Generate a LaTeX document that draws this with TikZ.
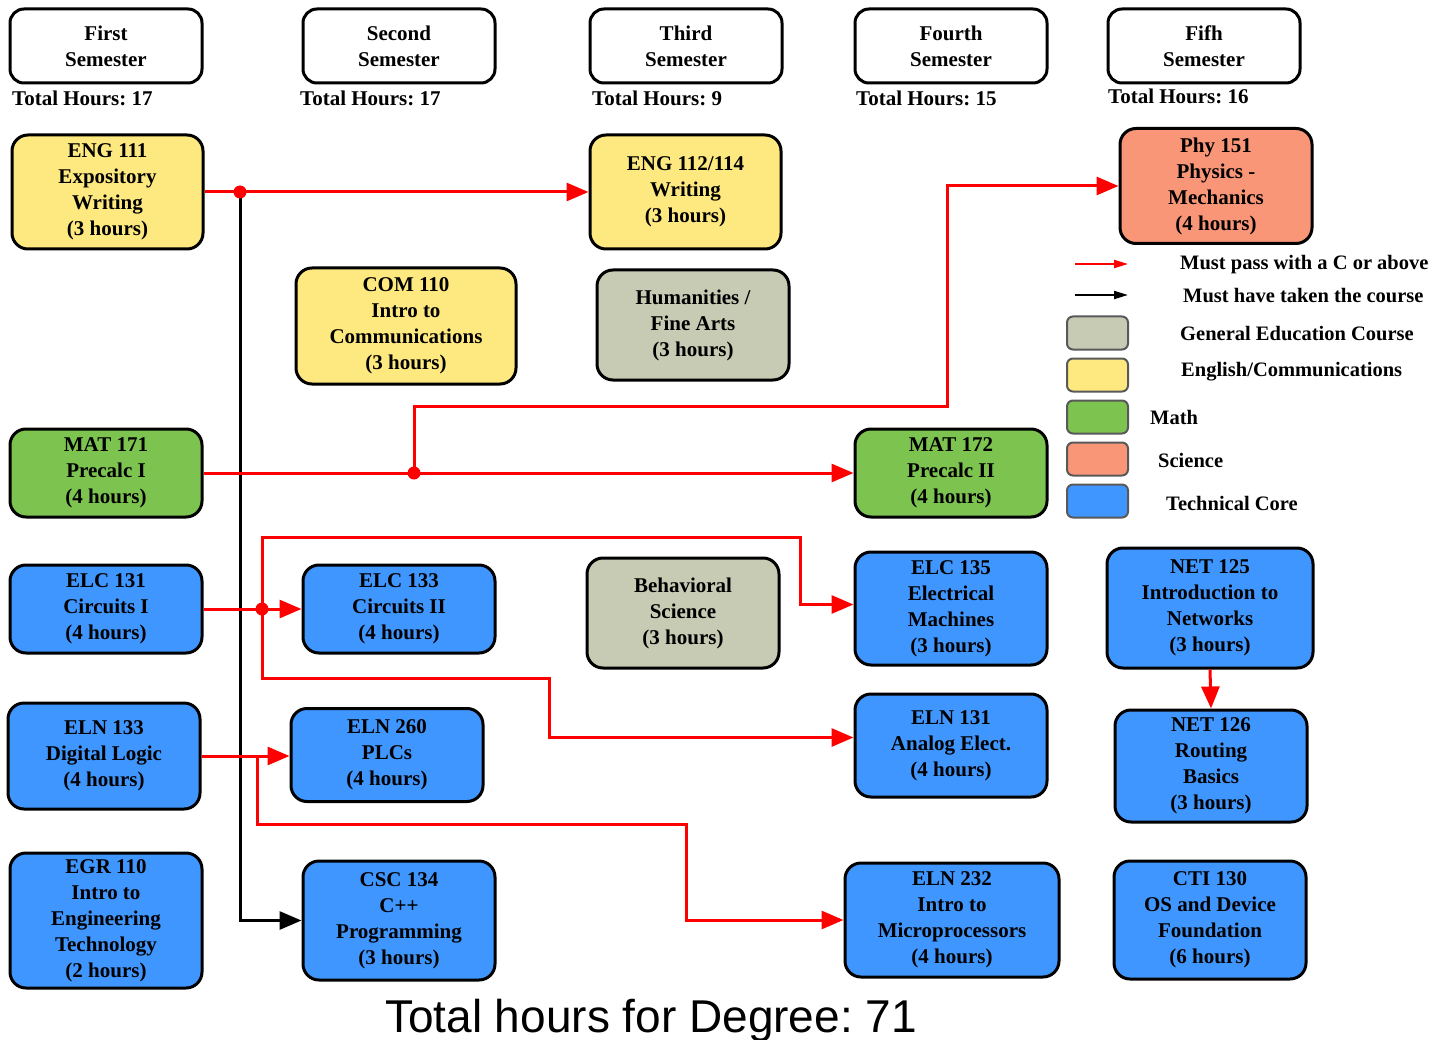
\documentclass[tikz,border=0pt]{standalone}
\usepackage{fontspec}
\setmainfont{Liberation Serif}
\newfontfamily\titlefnt{Liberation Sans}
\usetikzlibrary{arrows.meta}
\frenchspacing
\definecolor{cylw}{RGB}{254,233,128}
\definecolor{cgry}{RGB}{199,203,180}
\definecolor{cgrn}{RGB}{125,195,80}
\definecolor{csal}{RGB}{250,150,120}
\definecolor{cblu}{RGB}{64,150,255}
\newcommand\coursefnt{\fontsize{21}{26}\selectfont\bfseries}
\newcommand\legfnt{\fontsize{20.5}{25}\selectfont\bfseries}
\begin{document}
\begin{tikzpicture}[x=1pt,y=-1pt,
  course/.style={draw=black, line width=3pt, rounded corners=16pt, align=center, inner sep=0pt, font=\coursefnt, text=black},
  semhead/.style={course, fill=white, minimum width=192pt, minimum height=74pt, rounded corners=14pt},
  hours/.style={anchor=base west, inner sep=0pt, font=\coursefnt},
  redarrow/.style={draw=red, line width=3pt, -{Triangle[length=22pt,width=18pt]}},
  redline/.style={draw=red, line width=3pt},
  blkarrow/.style={draw=black, line width=3pt, -{Triangle[length=22pt,width=18pt]}},
  swatch/.style={draw=black!65, line width=2pt, rounded corners=6pt, minimum width=61pt, minimum height=33pt, inner sep=0pt},
  legtext/.style={anchor=west, inner sep=0pt, font=\legfnt},
  jdot/.style={fill=red}]
\useasboundingbox[fill=white] (0,0) rectangle (1447,1040);

% semester headers
\node[semhead] (s1) at (106,46) {First\\Semester};
\node[semhead] (s2) at (399,46) {Second\\Semester};
\node[semhead] (s3) at (686,46) {Third\\Semester};
\node[semhead] (s4) at (951,46) {Fourth\\Semester};
\node[semhead] (s5) at (1204,46) {Fifh\\Semester};
\node[hours] (h1) at (12,106) {Total Hours: 17};
\node[hours] (h2) at (300,106) {Total Hours: 17};
\node[hours] (h3) at (592,106) {Total Hours: 9};
\node[hours] (h4) at (856,106) {Total Hours: 15};
\node[hours] (h5) at (1108,104) {Total Hours: 16};

% courses
\node[course, fill=cylw, minimum width=191pt, minimum height=114pt] (eng111) at (107.5,192) {ENG 111\\Expository\\Writing\\(3 hours)};
\node[course, fill=cylw, minimum width=191pt, minimum height=114pt] (eng112) at (685.5,192) {ENG 112/114\\Writing\\(3 hours)};
\node[course, fill=csal, minimum width=192pt, minimum height=115pt] (phy151) at (1216,186) {Phy 151\\Physics -\\Mechanics\\(4 hours)};
\node[course, fill=cylw, minimum width=220pt, minimum height=116pt] (com110) at (406,326) {COM 110\\Intro to\\Communications\\(3 hours)};
\node[course, fill=cgry, minimum width=192pt, minimum height=110pt] (hum) at (693,325) {Humanities /\\Fine Arts\\(3 hours)};
\node[course, fill=cgrn, minimum width=192pt, minimum height=88pt] (mat171) at (106,473) {MAT 171\\Precalc I\\(4 hours)};
\node[course, fill=cgrn, minimum width=192pt, minimum height=88pt] (mat172) at (951,473) {MAT 172\\Precalc II\\(4 hours)};
\node[course, fill=cblu, minimum width=192pt, minimum height=88pt] (elc131) at (106,609) {ELC 131\\Circuits I\\(4 hours)};
\node[course, fill=cblu, minimum width=192pt, minimum height=88pt] (elc133) at (399,609) {ELC 133\\Circuits II\\(4 hours)};
\node[course, fill=cgry, minimum width=192pt, minimum height=110pt] (behav) at (683,613) {Behavioral\\Science\\(3 hours)};
\node[course, fill=cblu, minimum width=192pt, minimum height=113pt] (elc135) at (951,608.5) {ELC 135\\Electrical\\Machines\\(3 hours)};
\node[course, fill=cblu, minimum width=206pt, minimum height=120pt] (net125) at (1210,608) {NET 125\\Introduction to\\Networks\\(3 hours)};
\node[course, fill=cblu, minimum width=192pt, minimum height=106pt] (eln133) at (104,756) {ELN 133\\Digital Logic\\(4 hours)};
\node[course, fill=cblu, minimum width=192pt, minimum height=93pt] (eln260) at (387,755) {ELN 260\\PLCs\\(4 hours)};
\node[course, fill=cblu, minimum width=192pt, minimum height=103pt] (eln131) at (951,745.5) {ELN 131\\Analog Elect.\\(4 hours)};
\node[course, fill=cblu, minimum width=192pt, minimum height=112pt] (net126) at (1211,766) {NET 126\\Routing\\Basics\\(3 hours)};
\node[course, fill=cblu, minimum width=192pt, minimum height=135pt] (egr110) at (106,920.5) {EGR 110\\Intro to\\Engineering\\Technology\\(2 hours)};
\node[course, fill=cblu, minimum width=192pt, minimum height=119pt] (csc134) at (399,920.5) {CSC 134\\C++\\Programming\\(3 hours)};
\node[course, fill=cblu, minimum width=214pt, minimum height=114pt] (eln232) at (952,920) {ELN 232\\Intro to\\Microprocessors\\(4 hours)};
\node[course, fill=cblu, minimum width=192pt, minimum height=118pt] (cti130) at (1210,920) {CTI 130\\OS and Device\\Foundation\\(6 hours)};

% junctions
\coordinate (j1) at (240,192);
\coordinate (j2) at (414,473);
\coordinate (j3) at (262,609);
\coordinate (j4) at (257,756);

% connectors
\draw[blkarrow] (j1) |- (csc134.west);
\draw[redarrow] (eng111.east) -- (eng112.west);
\draw[redarrow] (mat171.east) -- (mat172.west);
\draw[redarrow] (j2) -- (414,406) -- (947,406) |- (phy151.west);
\draw[redarrow] (elc131.east) -- (elc133.west);
\draw[redarrow] (j3) -- (262,537) -- (800,537) |- ([yshift=4pt]elc135.west);
\draw[redarrow] (j3) -- (262,678) -- (549,678) |- ([yshift=8pt]eln131.west);
\draw[redarrow] (eln133.east) -- (eln133.east -| eln260.west);
\draw[redarrow] (j4) -- (257,824) -- (686,824) |- (eln232.west);
\draw[redarrow] (net125.south) -- (net126.north);
\fill[jdot] (j1) circle (6.5pt);
\fill[jdot] (j2) circle (6.5pt);
\fill[jdot] (j3) circle (6.5pt);

% legend
\coordinate (la1) at (1075,264);
\coordinate (la2) at (1128,264);
\coordinate (lb1) at (1075,295);
\coordinate (lb2) at (1128,295);
\draw[draw=red, line width=2pt, -{Triangle[length=14pt,width=8pt]}] (la1) -- (la2);
\draw[draw=black, line width=2pt, -{Triangle[length=14pt,width=8pt]}] (lb1) -- (lb2);
\node[legtext] (lt1) at (1180,265) {Must pass with a C or above};
\node[legtext] (lt2) at (1183,296) {Must have taken the course};
\node[swatch, fill=cgry] (sw1) at (1097.5,333) {};
\node[swatch, fill=cylw] (sw2) at (1097.5,375) {};
\node[swatch, fill=cgrn] (sw3) at (1097.5,417) {};
\node[swatch, fill=csal] (sw4) at (1097.5,459) {};
\node[swatch, fill=cblu] (sw5) at (1097.5,501) {};
\node[legtext] (lt3) at (1180,334) {General Education Course};
\node[legtext] (lt4) at (1181,372) {English/Communications};
\node[legtext] (lt5) at (1150,417) {Math};
\node[legtext] (lt6) at (1158,460) {Science};
\node[legtext] (lt7) at (1166,503) {Technical Core};

% title
\node[anchor=base, inner sep=0pt, font=\titlefnt\fontsize{46}{50}\selectfont] (total) at (651,1032) {Total hours for Degree: 71};
\end{tikzpicture}
\end{document}
